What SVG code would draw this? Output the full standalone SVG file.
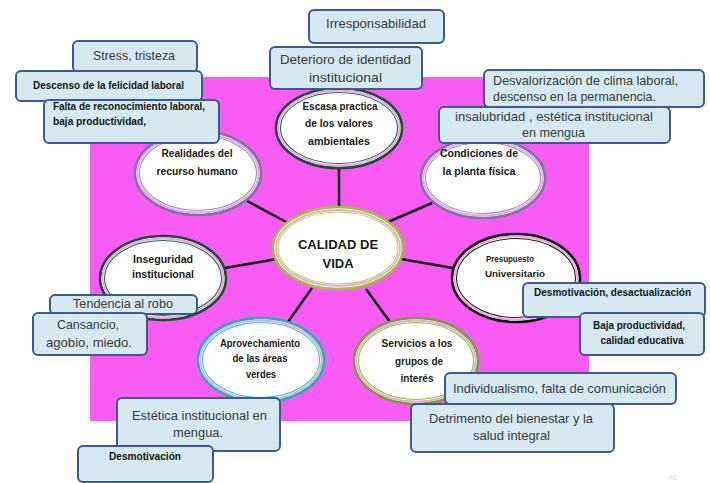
<svg xmlns="http://www.w3.org/2000/svg" width="710" height="483" viewBox="0 0 710 483">
<style>
.bg{fill:#f85cf2}
.box{fill:#d6e9f1;stroke:#3d5a8c;stroke-width:2}
.bt{font-family:"Liberation Sans","DejaVu Sans",sans-serif;font-size:13px;fill:#3a3a3a}
.bb{font-family:"Liberation Sans","DejaVu Sans",sans-serif;font-size:10px;font-weight:bold;fill:#151515}
.et{font-family:"Liberation Sans","DejaVu Sans",sans-serif;font-size:10px;font-weight:bold;fill:#1a1a1a;text-anchor:middle}
.ct{font-family:"Liberation Sans","DejaVu Sans",sans-serif;font-size:13px;font-weight:bold;fill:#1a1a1a;text-anchor:middle}
.m{text-anchor:middle}
.ef{fill:#fff;stroke-width:2.6}
.pk{fill:none;stroke:#eaa6dd;stroke-width:1.8}
.in{fill:none;stroke-width:1.1}
.conn line{stroke:#111;stroke-width:2.5}
</style>
<rect x="0" y="0" width="710" height="483" fill="#fff"/>
<rect class="bg" x="90" y="77" width="499" height="344"/>

<g id="connectors" class="conn">
<line x1="339" y1="167" x2="339" y2="208"/>
<line x1="247" y1="201" x2="290" y2="224"/>
<line x1="388" y1="222" x2="432" y2="203"/>
<line x1="225" y1="268" x2="277" y2="259"/>
<line x1="401" y1="259" x2="453" y2="268"/>
<line x1="312" y1="288" x2="288" y2="322"/>
<line x1="366" y1="289" x2="390" y2="322"/>
</g>

<g id="n-calidad">
<ellipse class="ef" cx="338" cy="248" rx="65" ry="41" stroke="#9cc232" stroke-width="3.2"/>
<ellipse class="pk" cx="338" cy="248" rx="62" ry="38"/>
<ellipse class="in" cx="338" cy="248" rx="60" ry="36" stroke="#b5d84a"/>
<text class="ct" x="338" y="249">CALIDAD DE</text>
<text class="ct" x="338" y="268">VIDA</text>
</g>

<g id="n-escasa">
<ellipse class="ef" cx="339" cy="128" rx="63" ry="40" stroke="#1f4a3c"/>
<ellipse class="pk" cx="339" cy="128" rx="60.5" ry="37.5"/>
<ellipse class="in" cx="339" cy="128" rx="58.5" ry="35.5" stroke="#2d5e4e"/>
<text class="et" x="340" y="110" textLength="75" lengthAdjust="spacingAndGlyphs">Escasa practica</text>
<text class="et" x="339" y="127" textLength="68" lengthAdjust="spacingAndGlyphs">de los valores</text>
<text class="et" x="339" y="145" textLength="62" lengthAdjust="spacingAndGlyphs">ambientales</text>
</g>

<g id="n-realidades">
<ellipse class="ef" cx="198" cy="173" rx="63" ry="42" stroke="#7f72a8"/>
<ellipse class="pk" cx="198" cy="173" rx="60.5" ry="39.5"/>
<ellipse class="in" cx="198" cy="173" rx="58.5" ry="37.5" stroke="#9a8cc2"/>
<text class="et" x="197" y="157" textLength="71" lengthAdjust="spacingAndGlyphs">Realidades del</text>
<text class="et" x="197" y="175" textLength="81" lengthAdjust="spacingAndGlyphs">recurso humano</text>
</g>

<g id="n-condiciones">
<ellipse class="ef" cx="483" cy="178" rx="62" ry="40" stroke="#7f72a8"/>
<ellipse class="pk" cx="483" cy="178" rx="59.5" ry="37.5"/>
<ellipse class="in" cx="483" cy="178" rx="57.5" ry="35.5" stroke="#9a8cc2"/>
<text class="et" x="479" y="157" textLength="78" lengthAdjust="spacingAndGlyphs">Condiciones de</text>
<text class="et" x="479" y="175" textLength="73" lengthAdjust="spacingAndGlyphs">la planta física</text>
</g>

<g id="n-inseguridad">
<ellipse class="ef" cx="163" cy="278" rx="63" ry="42" stroke="#1f4a3c"/>
<ellipse class="pk" cx="163" cy="278" rx="60.5" ry="39.5"/>
<ellipse class="in" cx="163" cy="278" rx="58.5" ry="37.5" stroke="#2d5e4e"/>
<text class="et" x="163" y="263" textLength="60" lengthAdjust="spacingAndGlyphs">Inseguridad</text>
<text class="et" x="163" y="278" textLength="62" lengthAdjust="spacingAndGlyphs">institucional</text>
</g>

<g id="n-presupuesto">
<ellipse class="ef" cx="516" cy="278" rx="64" ry="44" stroke="#111"/>
<ellipse class="pk" cx="516" cy="278" rx="61.5" ry="41.5"/>
<ellipse class="in" cx="516" cy="278" rx="59.5" ry="39.5" stroke="#222"/>
<text class="et" x="510" y="262" textLength="48" lengthAdjust="spacingAndGlyphs" style="font-size:9px">Presupuesto</text>
<text class="et" x="515" y="277" textLength="60" lengthAdjust="spacingAndGlyphs" style="font-size:9px">Universitario</text>
</g>

<g id="n-aprovechamiento">
<ellipse class="ef" cx="261" cy="360" rx="63" ry="42" stroke="#1fb3b3"/>
<ellipse class="pk" cx="261" cy="360" rx="60.5" ry="39.5"/>
<ellipse class="in" cx="261" cy="360" rx="58.5" ry="37.5" stroke="#3cc6c6"/>
<text class="et" x="260" y="347" textLength="80" lengthAdjust="spacingAndGlyphs">Aprovechamiento</text>
<text class="et" x="260" y="362" textLength="55" lengthAdjust="spacingAndGlyphs">de las áreas</text>
<text class="et" x="261" y="378" textLength="30" lengthAdjust="spacingAndGlyphs">verdes</text>
</g>

<g id="n-servicios">
<ellipse class="ef" cx="416" cy="361" rx="62" ry="43" stroke="#77a03a"/>
<ellipse class="pk" cx="416" cy="361" rx="59.5" ry="40.5"/>
<ellipse class="in" cx="416" cy="361" rx="57.5" ry="38.5" stroke="#8fbf45"/>
<text class="et" x="417" y="347" textLength="71" lengthAdjust="spacingAndGlyphs">Servicios a los</text>
<text class="et" x="419" y="365" textLength="48" lengthAdjust="spacingAndGlyphs">grupos de</text>
<text class="et" x="417" y="382" textLength="33" lengthAdjust="spacingAndGlyphs">interés</text>
</g>

<g id="b-stress">
<rect class="box" x="73" y="41" width="124" height="31" rx="5"/>
<text class="bt m" x="134" y="60" textLength="82" lengthAdjust="spacingAndGlyphs">Stress, tristeza</text>
</g>
<g id="b-descenso">
<rect class="box" x="16" y="71" width="186" height="30" rx="5"/>
<text class="bb" x="33" y="89" textLength="151" lengthAdjust="spacingAndGlyphs">Descenso de la felicidad laboral</text>
</g>
<g id="b-falta">
<rect class="box" x="44" y="100" width="175" height="43" rx="5"/>
<text class="bb" x="53" y="110" textLength="152" lengthAdjust="spacingAndGlyphs">Falta de reconocimiento laboral,</text>
<text class="bb" x="53" y="125" textLength="93" lengthAdjust="spacingAndGlyphs">baja productividad,</text>
</g>

<g id="b-irresponsabilidad">
<rect class="box" x="309" y="10" width="135" height="33" rx="5"/>
<text class="bt" x="326" y="28" textLength="100" lengthAdjust="spacingAndGlyphs">Irresponsabilidad</text>
</g>
<g id="b-deterioro">
<rect class="box" x="270" y="47" width="152" height="42" rx="5"/>
<text class="bt m" x="345.5" y="64" textLength="131" lengthAdjust="spacingAndGlyphs">Deterioro de identidad</text>
<text class="bt m" x="345.5" y="82" textLength="73" lengthAdjust="spacingAndGlyphs">institucional</text>
</g>

<g id="b-desvalorizacion">
<rect class="box" x="484" y="70" width="220" height="37" rx="5"/>
<text class="bt" x="493" y="85" textLength="185" lengthAdjust="spacingAndGlyphs">Desvalorización de clima laboral,</text>
<text class="bt" x="493" y="101" textLength="163" lengthAdjust="spacingAndGlyphs">descenso en la permanencia.</text>
</g>
<g id="b-insalubridad">
<rect class="box" x="439" y="107" width="231" height="36" rx="5"/>
<text class="bt" x="455" y="121" textLength="198" lengthAdjust="spacingAndGlyphs">insalubridad , estética institucional</text>
<text class="bt" x="522" y="137" textLength="63" lengthAdjust="spacingAndGlyphs">en mengua</text>
</g>

<g id="b-tendencia">
<rect class="box" x="50" y="295" width="147" height="19" rx="5"/>
<text class="bt" x="73" y="308" textLength="100" lengthAdjust="spacingAndGlyphs">Tendencia al robo</text>
</g>
<g id="b-cansancio">
<rect class="box" x="33" y="313" width="114" height="42" rx="5"/>
<text class="bt m" x="88" y="329" textLength="62" lengthAdjust="spacingAndGlyphs">Cansancio,</text>
<text class="bt m" x="89" y="347" textLength="86" lengthAdjust="spacingAndGlyphs">agobio, miedo.</text>
</g>

<g id="b-desmotivacion-desact">
<rect class="box" x="523" y="283" width="182" height="34" rx="5"/>
<text class="bb" x="534" y="296" textLength="157" lengthAdjust="spacingAndGlyphs">Desmotivación, desactualización</text>
</g>
<g id="b-baja">
<rect class="box" x="580" y="313" width="124" height="42" rx="5"/>
<text class="bb m" x="639" y="329" textLength="92" lengthAdjust="spacingAndGlyphs">Baja  productividad,</text>
<text class="bb m" x="642" y="344" textLength="83" lengthAdjust="spacingAndGlyphs">calidad educativa</text>
</g>

<g id="b-individualismo">
<rect class="box" x="445" y="373" width="231" height="31" rx="5"/>
<text class="bt" x="453" y="393" textLength="213" lengthAdjust="spacingAndGlyphs">Individualismo, falta de comunicación</text>
</g>
<g id="b-detrimento">
<rect class="box" x="411" y="404" width="203" height="48" rx="5"/>
<text class="bt" x="429" y="423" textLength="164" lengthAdjust="spacingAndGlyphs">Detrimento del bienestar y la</text>
<text class="bt" x="473" y="440" textLength="77" lengthAdjust="spacingAndGlyphs">salud integral</text>
</g>

<g id="b-estetica">
<rect class="box" x="117" y="398" width="163" height="53" rx="5"/>
<text class="bt" x="132" y="420" textLength="135" lengthAdjust="spacingAndGlyphs">Estética institucional en</text>
<text class="bt" x="173" y="437" textLength="50" lengthAdjust="spacingAndGlyphs">mengua.</text>
</g>
<g id="b-desmotivacion">
<rect class="box" x="78" y="446" width="135" height="36" rx="5"/>
<text class="bb" x="109" y="460" textLength="72" lengthAdjust="spacingAndGlyphs">Desmotivación</text>
</g>

<text x="668" y="480" style="font-family:'Liberation Sans',sans-serif;font-size:8px;fill:#d8d8d8">46</text>
</svg>
